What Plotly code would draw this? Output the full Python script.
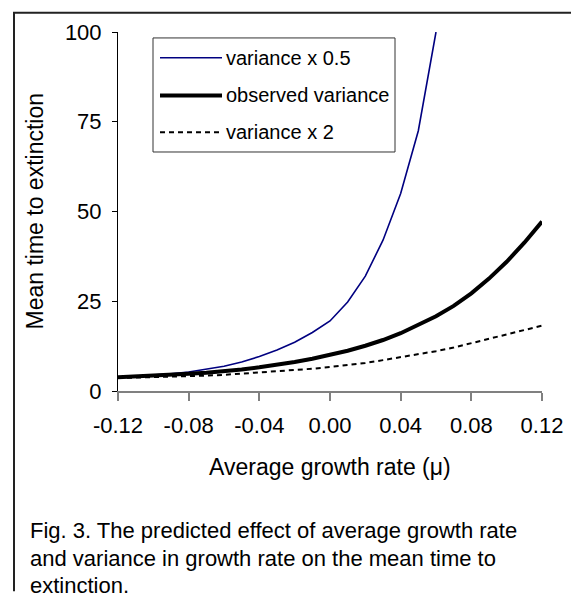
import plotly.graph_objects as go

# ---- data ----
mu = [-0.12, -0.11, -0.10, -0.09, -0.08, -0.07, -0.06, -0.05, -0.04, -0.03,
      -0.02, -0.01, 0.00, 0.01, 0.02, 0.03, 0.04, 0.05, 0.06, 0.07,
      0.08, 0.09, 0.10, 0.11, 0.12]

var_half = [3.8, 4.1, 4.4, 4.8, 5.3, 6.0, 6.9, 8.1, 9.6, 11.4,
            13.6, 16.3, 19.5, 24.8, 32.0, 42.0, 55.0, 72.5, 100.0]

var_obs = [3.8, 4.0, 4.2, 4.5, 4.8, 5.1, 5.5, 6.0, 6.6, 7.3,
           8.1, 9.0, 10.0, 11.2, 12.6, 14.2, 16.1, 18.3, 20.8, 23.7,
           27.2, 31.3, 36.0, 41.3, 47.2]

var_double = [3.6, 3.7, 3.8, 3.95, 4.1, 4.3, 4.5, 4.8, 5.1, 5.4,
              5.8, 6.2, 6.7, 7.2, 7.8, 8.6, 9.4, 10.2, 11.1, 12.1,
              13.3, 14.5, 15.8, 16.8, 18.2]

series_names = ["variance x 0.5", "observed variance", "variance x 2"]

x_tickvals = [-0.12, -0.08, -0.04, 0.00, 0.04, 0.08, 0.12]
x_ticktext = ["-0.12", "-0.08", "-0.04", "0.00", "0.04", "0.08", "0.12"]
y_tickvals = [0, 25, 50, 75, 100]
y_ticktext = ["0", "25", "50", "75", "100"]

x_title = "Average growth rate (\u03bc)"
y_title = "Mean time to extinction"
caption = ["Fig. 3. The predicted effect of average growth rate",
           "and variance in growth rate on the mean time to",
           "extinction."]

# ---- styling ----
FONT = "Liberation Sans, Arial, Helvetica, sans-serif"
OFF = 8                      # page body margin of the html page
W, H = 579 - OFF, 594 - OFF
# plot area in window pixels: x 118..542, y 29..391
L, R, T, B = 118 - OFF, 579 - 542, 29 - OFF, 594 - 391
styles = [
    dict(color="#000080", width=1.6),
    dict(color="#000000", width=4),
    dict(color="#000000", width=2, dash="5px,4px"),
]

PW, PH = W - L - R, H - T - B


def px(xw):
    """window x pixel -> paper coordinate"""
    return (xw - OFF - L) / PW


def py(yw):
    """window y pixel -> paper coordinate"""
    return (H - B - (yw - OFF)) / PH


fig = go.Figure()
ys = [var_half, var_obs, var_double]
for name, yv, st in zip(series_names, ys, styles):
    fig.add_trace(go.Scatter(x=mu[:len(yv)], y=yv, mode="lines", name=name,
                             line=st, showlegend=False, cliponaxis=True))

shapes = []
annotations = []

# outer frame (left and top edges of the page box), kept inside the figure
frame_line = dict(color="#222222", width=2)
shapes.append(dict(type="path", xref="paper", yref="paper",
                   path="M {x1},{y0} L {x0},{y0} L {x0},{y1}".format(
                       x0=px(14), x1=px(578), y0=py(9.5), y1=py(593)),
                   line=frame_line, layer="above"))

# manual legend
shapes.append(dict(type="rect", xref="paper", yref="paper",
                   x0=px(153), x1=px(395), y0=py(150), y1=py(35),
                   line=dict(color="#333333", width=1), fillcolor="white"))
leg_y = [55, 93, 130]
for name, st, yy in zip(series_names, styles, leg_y):
    ln = dict(color=st["color"], width=st["width"])
    if "dash" in st:
        ln["dash"] = st["dash"]
    shapes.append(dict(type="line", xref="paper", yref="paper",
                       x0=px(160), x1=px(222), y0=py(yy), y1=py(yy), line=ln))
    annotations.append(dict(xref="paper", yref="paper", x=px(224), y=py(yy),
                            xanchor="left", yanchor="middle", showarrow=False,
                            text=name, font=dict(family=FONT, size=20, color="black")))

# axis titles
annotations.append(dict(xref="paper", yref="paper", x=0.5, y=py(468),
                        xanchor="center", yanchor="middle", showarrow=False,
                        text=x_title, font=dict(family=FONT, size=23, color="black")))
annotations.append(dict(xref="paper", yref="paper", x=px(34), y=0.5,
                        xanchor="center", yanchor="middle", showarrow=False,
                        textangle=-90,
                        text=y_title, font=dict(family=FONT, size=23, color="black")))

# caption
for line_text, yy in zip(caption, [532, 560, 587]):
    annotations.append(dict(xref="paper", yref="paper", x=px(28), y=py(yy),
                            xanchor="left", yanchor="middle", showarrow=False,
                            text=line_text, font=dict(family=FONT, size=22, color="black")))

fig.update_layout(
    width=W, height=H, autosize=False,
    margin=dict(l=L, r=R, t=T, b=B, pad=0),
    paper_bgcolor="white", plot_bgcolor="white",
    font=dict(family=FONT, color="black"),
    showlegend=False,
    shapes=shapes, annotations=annotations,
    xaxis=dict(range=[-0.12, 0.12], tickvals=x_tickvals, ticktext=x_ticktext,
               showline=True, linecolor="#808080", linewidth=1.5,
               ticks="outside", ticklen=8, tickcolor="#808080", tickwidth=1.5,
               showgrid=False, zeroline=False, ticklabelstandoff=6,
               tickfont=dict(family=FONT, size=22, color="black")),
    yaxis=dict(range=[0, 100], tickvals=y_tickvals, ticktext=y_ticktext,
               showline=True, linecolor="black", linewidth=1,
               ticks="outside", ticklen=5, tickcolor="black", tickwidth=1,
               showgrid=False, zeroline=False, ticklabelstandoff=6,
               tickfont=dict(family=FONT, size=22, color="black")),
)

fig.write_html("out.html")
